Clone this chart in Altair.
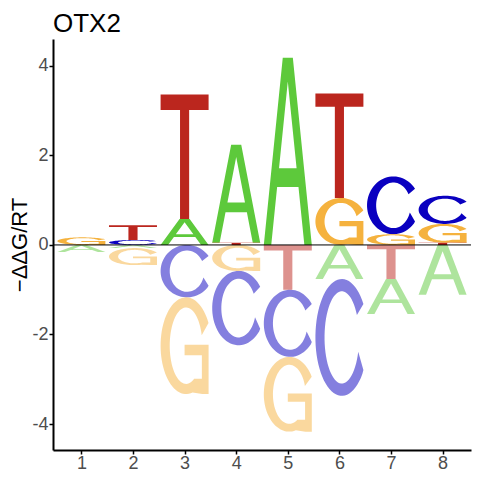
import altair as alt
import numpy as np

# ---- data (signed -ΔΔG/RT per base and position) ----
positions = [1, 2, 3, 4, 5, 6, 7, 8]
A_vals = [-0.16, -0.07, 0.58, 2.19, 4.18, -0.76, -0.78, -1.11]
C_vals = [0.00, 0.11, -1.17, -1.66, -1.50, -2.61, 1.29, 0.63]
G_vals = [0.17, -0.38, -2.16, -0.58, -1.67, 1.05, 0.24, 0.42]
T_vals = [0.00, 0.33, 2.78, 0.05, -1.00, 2.33, -0.76, 0.05]
letters = ["A", "C", "G", "T"]
letter_colors = ["#5DC93B", "#0A00C0", "#F5B23E", "#BB261E"]
y_ticks = [-4, -2, 0, 2, 4]


# ---- glyph outlines in a unit box (shape templates) ----
def arc(cx, cy, rx, ry, a0, a1, n=60):
    t = np.radians(np.linspace(a0, a1, n))
    return [(float(min(max(cx + rx * np.cos(v), 0), 1)), float(cy + ry * np.sin(v))) for v in t]


def glyph_T():
    return [(0, 1), (1, 1), (1, 0.875), (0.595, 0.875), (0.595, 0), (0.405, 0),
            (0.405, 0.875), (0, 0.875), (0, 1)]


def glyph_A():
    return [(0, 0), (0.155, 0), (0.2775, 0.31), (0.7225, 0.31), (0.845, 0), (1, 0),
            (0.605, 1), (0.395, 1), (0.5, 0.873), (0.683, 0.41), (0.317, 0.41),
            (0.5, 0.873), (0.395, 1), (0, 0)]


def glyph_C():
    pts = arc(0.55, 0.5, 0.55, 0.5, 35, 326) + arc(0.55, 0.5, 0.36, 0.395, 342, 29)
    return pts + [pts[0]]


def glyph_G():
    pts = arc(0.53, 0.5, 0.53, 0.5, 28, 285)
    pts += [(0.87, 0.0), (1.0, 0.0), (1.0, 0.51), (0.5, 0.51), (0.5, 0.40),
            (0.86, 0.40), (0.86, 0.158)]
    pts += arc(0.53, 0.5, 0.34, 0.395, 300, 16)
    return pts + [pts[0]]


glyphs = {"A": glyph_A(), "C": glyph_C(), "G": glyph_G(), "T": glyph_T()}
values = {"A": A_vals, "C": C_vals, "G": G_vals, "T": T_vals}

records = []
for i, p in enumerate(positions):
    for L in letters:
        v = values[L][i]
        if v == 0:
            continue
        g = glyphs[L]
        records.append({
            "pos": p, "letter": L, "value": v, "gid": f"{p}-{L}",
            "gx": [q[0] for q in g], "gy": [q[1] for q in g],
            "gi": list(range(len(g))),
        })

base = (
    alt.Chart(alt.Data(values=records))
    .transform_calculate(sgn="datum.value > 0 ? 1 : -1", mag="abs(datum.value)")
    .transform_window(
        cum="sum(mag)", groupby=["pos", "sgn"],
        sort=[alt.SortField("mag", order="ascending")],
        frame=[None, 0], ignorePeers=True,
    )
    .transform_calculate(
        ylo="datum.sgn > 0 ? datum.cum - datum.mag : -datum.cum",
        yhi="datum.sgn > 0 ? datum.cum : -(datum.cum - datum.mag)",
        part="datum.sgn > 0 ? 'pos' : 'neg'",
    )
    .transform_flatten(["gx", "gy", "gi"])
    .transform_calculate(
        px="datum.pos - 0.465 + 0.93 * datum.gx",
        py="datum.ylo + datum.gy * (datum.yhi - datum.ylo)",
    )
)

logo = base.mark_line(filled=True, interpolate="linear").encode(
    x=alt.X("px:Q", scale=alt.Scale(domain=[0.45, 8.55], nice=False, zero=False),
            axis=alt.Axis(values=positions, format="d", title=None, labelPadding=0)),
    y=alt.Y("py:Q", scale=alt.Scale(domain=[-4.58, 4.6], nice=False, zero=False),
            axis=alt.Axis(values=y_ticks, title="\u2212\u0394\u0394G/RT", titlePadding=0,
                          labelPadding=1,
                          labelExpr="datum.value < 0 ? '-' + abs(datum.value) : '' + datum.value")),
    color=alt.Color("letter:N", scale=alt.Scale(domain=letters, range=letter_colors), legend=None),
    opacity=alt.Opacity("part:N", scale=alt.Scale(domain=["pos", "neg"], range=[1, 0.5]), legend=None),
    detail="gid:N",
    order="gi:Q",
)

zero_line = alt.Chart(alt.Data(values=[{}])).mark_rule(color="black", strokeWidth=1).encode(
    y=alt.datum(0)
)

chart = (
    alt.layer(logo, zero_line)
    .properties(
        width=464, height=464,
        padding={"top": 3, "left": 0, "right": 0, "bottom": 0},
        autosize=alt.AutoSizeParams(type="fit", contains="padding"),
        title=alt.TitleParams("OTX2", anchor="start", frame="group", fontSize=26,
                              font="Liberation Sans", fontWeight="normal", color="black",
                              offset=2),
    )
    .configure_axis(
        domainColor="black", domainWidth=2, tickColor="black", tickWidth=1.5, tickSize=4,
        labelColor="#4D4D4D", labelFontSize=18, labelFont="Liberation Sans",
        titleFont="Liberation Sans", titleFontSize=22, titleFontWeight="normal",
        titleColor="black", grid=False, labelPadding=2,
    )
    .configure_view(stroke=None)
)

chart.save("out.html", embed_options={"renderer": "svg", "actions": False})
